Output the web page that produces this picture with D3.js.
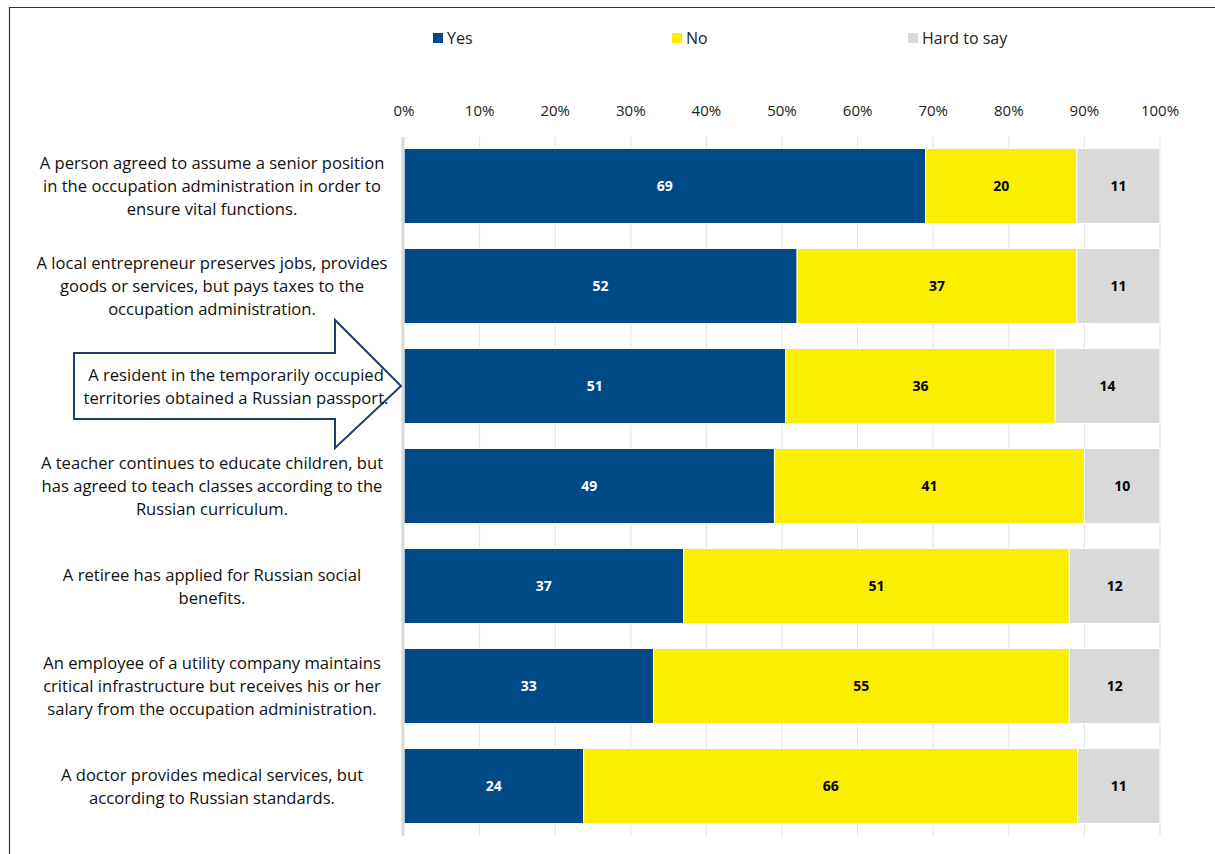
<!DOCTYPE html>
<html>
<head>
<meta charset="utf-8">
<script src="https://cdn.jsdelivr.net/npm/d3@7"></script>
<style>
  body { margin: 0; background: #fff; }
  svg { font-family: "Open Sans", "Noto Sans", sans-serif; }
</style>
</head>
<body>
<svg id="chart" width="1215" height="854"></svg>
<script>
// survey items, top to bottom
var statements = [
  ["A person agreed to assume a senior position", "in the occupation administration in order to", "ensure vital functions."],
  ["A local entrepreneur preserves jobs, provides", "goods or services, but pays taxes to the", "occupation administration."],
  ["A resident in the temporarily occupied", "territories obtained a Russian passport."],
  ["A teacher continues to educate children, but", "has agreed to teach classes according to the", "Russian curriculum."],
  ["A retiree has applied for Russian social", "benefits."],
  ["An employee of a utility company maintains", "critical infrastructure but receives his or her", "salary from the occupation administration."],
  ["A doctor provides medical services, but", "according to Russian standards."]
];
var yes = [69, 52, 51, 49, 37, 33, 24];
var no = [20, 37, 36, 41, 51, 55, 66];
var hard = [11, 11, 14, 10, 12, 12, 11];
var seriesNames = ["Yes", "No", "Hard to say"];
var tickValues = [0, 10, 20, 30, 40, 50, 60, 70, 80, 90, 100];
var highlighted = 2; // the passport item gets the arrow

var colors = ["#004a87", "#fcee00", "#d9d9d9"];
var textColors = ["#fff", "#000", "#000"];

var svg = d3.select("#chart");

// frame (only top + left visible in the crop)
svg.append("line").attr("x1", 9.5).attr("x2", 9.5).attr("y1", 7).attr("y2", 854)
  .attr("stroke", "#333").attr("stroke-width", 1.2);
svg.append("line").attr("x1", 9).attr("x2", 1215).attr("y1", 7.5).attr("y2", 7.5)
  .attr("stroke", "#333").attr("stroke-width", 1.2);

var x = d3.scaleLinear().domain([0, 100]).range([404, 1160]);
var y = d3.scaleBand().domain(d3.range(statements.length)).range([136, 836]).paddingInner(0.25).paddingOuter(0.125);

// gridlines
svg.append("g").selectAll("line")
  .data(tickValues.slice(1))
  .enter().append("line")
    .attr("x1", function(d){ return x(d); })
    .attr("x2", function(d){ return x(d); })
    .attr("y1", 137).attr("y2", 836)
    .attr("stroke", "#e3e3e3").attr("stroke-width", 1);

// tick labels on top
svg.append("g").selectAll("text")
  .data(tickValues)
  .enter().append("text")
    .attr("x", function(d){ return x(d); })
    .attr("y", 116)
    .attr("text-anchor", "middle")
    .attr("font-size", 15)
    .attr("fill", "#222")
    .text(function(d){ return d + "%"; });

// stack the three series, scaled to 100% per row (some rows sum to 101)
var rows = yes.map(function(v, i){ return {yes: v, no: no[i], hard: hard[i]}; });
var stack = d3.stack().keys(["yes", "no", "hard"]).offset(d3.stackOffsetExpand)(rows);

stack.forEach(function(layer, k){
  var key = layer.key;
  var g = svg.append("g");
  g.selectAll("rect")
    .data(layer)
    .enter().append("rect")
      .attr("x", function(d){ return x(d[0] * 100); })
      .attr("width", function(d){ return x(d[1] * 100) - x(d[0] * 100); })
      .attr("y", function(d, i){ return y(i); })
      .attr("height", y.bandwidth())
      .attr("fill", colors[k])
      .attr("stroke", "#fff").attr("stroke-width", 1);
  g.selectAll("text")
    .data(layer)
    .enter().append("text")
      .attr("x", function(d){ return (x(d[0] * 100) + x(d[1] * 100)) / 2; })
      .attr("y", function(d, i){ return y(i) + y.bandwidth() / 2 + 5; })
      .attr("text-anchor", "middle")
      .attr("font-size", 14)
      .attr("font-weight", "bold")
      .attr("fill", textColors[k])
      .text(function(d){ return d.data[key]; });
});

// axis line at 0%
svg.append("line").attr("x1", 403).attr("x2", 403).attr("y1", 137).attr("y2", 836)
  .attr("stroke", "#d9d9d9").attr("stroke-width", 3);

// arrow behind highlighted label
var ay = y(highlighted) + y.bandwidth() / 2;
var arrowPts = [[74, ay - 33], [335, ay - 33], [335, ay - 66], [401, ay], [335, ay + 62], [335, ay + 33], [74, ay + 33]];
svg.append("path")
  .attr("d", d3.line()(arrowPts) + "Z")
  .attr("fill", "#fff")
  .attr("stroke", "#1d3f6e")
  .attr("stroke-width", 2);

// category labels
statements.forEach(function(lines, i){
  var cy = y(i) + y.bandwidth() / 2;
  var lh = 23;
  var t = svg.append("text")
    .attr("text-anchor", "middle")
    .attr("font-size", 16.6)
    .attr("fill", "#111");
  lines.forEach(function(l, j){
    t.append("tspan")
      .attr("x", i === highlighted ? 236 : 212)
      .attr("y", cy + (j - (lines.length - 1) / 2) * lh + 6)
      .text(l);
  });
});

// legend
var legendX = [433, 672, 908];
seriesNames.forEach(function(name, k){
  svg.append("rect").attr("x", legendX[k]).attr("y", 33).attr("width", 10).attr("height", 10)
    .attr("fill", colors[k]);
  svg.append("text").attr("x", legendX[k] + 14).attr("y", 44)
    .attr("font-size", 16).attr("fill", "#222").text(name);
});
</script>
</body>
</html>
